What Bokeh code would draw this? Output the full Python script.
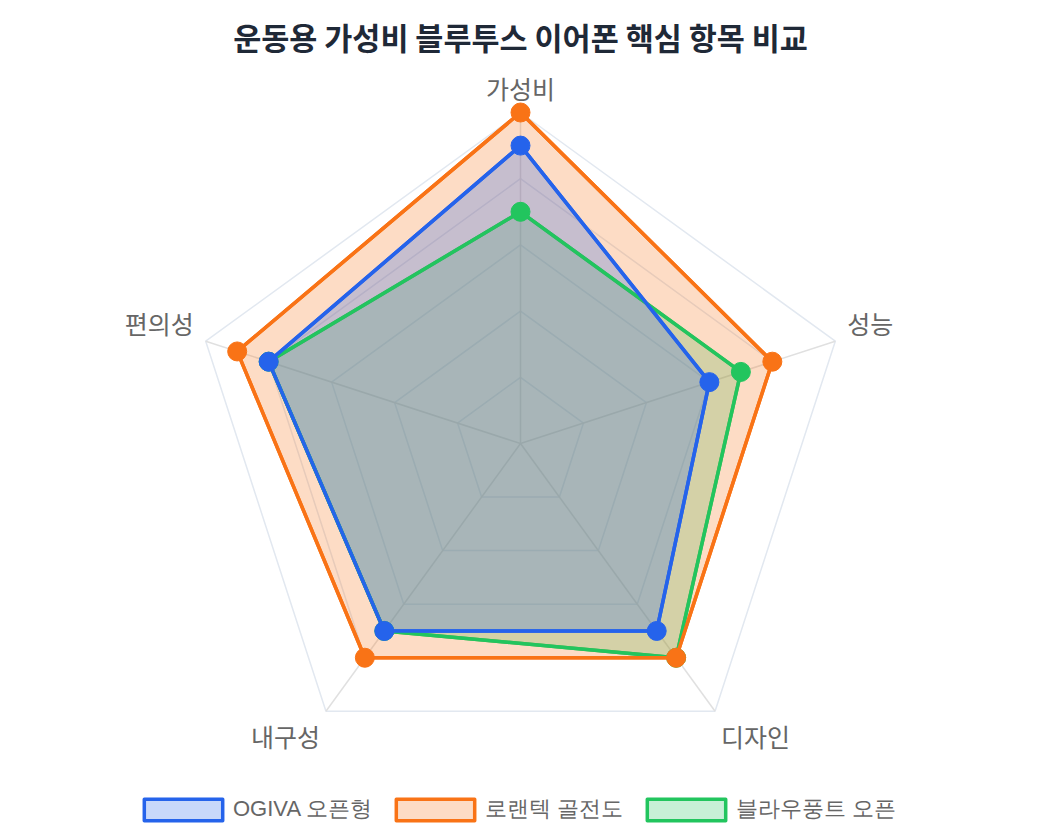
import numpy as np
from bokeh.plotting import figure
from bokeh.models import Range1d, Label, Legend, LegendItem, ColumnDataSource
from bokeh.core.properties import value
from bokeh.embed import file_html
from bokeh.resources import INLINE

# ---- data ----
title = "운동용 가성비 블루투스 이어폰 핵심 항목 비교"
categories = ["가성비", "성능", "디자인", "내구성", "편의성"]
series_names = ["OGIVA 오픈형", "로랜텍 골전도", "블라우풍트 오픈"]
ogiva = [9, 6, 7, 7, 8]
lorantech = [10, 8, 8, 8, 9]
blaupunkt = [7, 7, 8, 7, 8]
series_values = [ogiva, lorantech, blaupunkt]
colors = ["#2563eb", "#f97316", "#22c55e"]
r_max = 10
ring_ticks = [2, 4, 6, 8, 10]

W, H = 1024, 824
cx_px, cy_px = 520, 443
scale = 33.1  # px per unit

FONT = "Noto Sans CJK KR"
LFONT = "Liberation Sans"

p = figure(width=W, height=H, output_backend="svg", toolbar_location=None,
           x_range=Range1d(-cx_px / scale, (W - cx_px) / scale),
           y_range=Range1d(-(H - cy_px) / scale, cy_px / scale),
           min_border=0, outline_line_color=None)
p.axis.visible = False
p.grid.visible = False
p.background_fill_color = "white"
p.border_fill_color = "white"

n = len(categories)
angles = np.pi / 2 - np.arange(n) * 2 * np.pi / n
ca, sa = np.cos(angles), np.sin(angles)

# grid rings
for t in ring_ticks:
    xs = list(t * ca) + [t * ca[0]]
    ys = list(t * sa) + [t * sa[0]]
    p.line(xs, ys, line_color="#e2e8f0", line_width=1.5)
# spokes
p.segment(x0=[0] * n, y0=[0] * n, x1=list(r_max * ca), y1=list(r_max * sa),
          line_color="#e0e0e0", line_width=1.5)

# fills first (last series at bottom); these renderers also feed the legend
renderers = {}
coords = {}
for i in [2, 1, 0]:
    v = np.array(series_values[i], dtype=float)
    coords[i] = (list(v * ca), list(v * sa))
    renderers[i] = p.patch(coords[i][0], coords[i][1], fill_color=colors[i], fill_alpha=0.25,
                           line_color=colors[i], line_width=3.5, line_join="round")
# lines and points on top
for i in [2, 1, 0]:
    xs, ys = coords[i]
    p.line(xs + [xs[0]], ys + [ys[0]], line_color=colors[i], line_width=3.5, line_join="round")
    p.scatter(xs, ys, size=19, fill_color=colors[i], line_color=colors[i], line_width=1)

# category labels
lx = list(r_max * ca)
ly = list(r_max * sa)
aligns, xoffs, yoffs = [], [], []
for k in range(n):
    if abs(ca[k]) < 0.1:
        aligns.append("center"); xoffs.append(0); yoffs.append(-25)
    else:
        aligns.append("left" if ca[k] > 0 else "right")
        sgn = 1 if ca[k] > 0 else -1
        xoffs.append(sgn * (12 if sa[k] > 0 else 6))
        yoffs.append(-18 if sa[k] > 0 else 25)
src = ColumnDataSource(dict(x=lx, y=ly, text=categories, align=aligns, xo=xoffs, yo=yoffs))
p.text(x="x", y="y", text="text", source=src, text_align="align", text_baseline="middle",
       x_offset="xo", y_offset="yo", text_font=value(FONT), text_font_size="25px",
       text_color="#666666")

# title
p.add_layout(Label(x=cx_px, y=H - 36, x_units="screen", y_units="screen", text=title,
                   text_align="center", text_baseline="middle", text_font=FONT,
                   text_font_size="30.5px", text_font_style="bold", text_color="#1f2937"))

# legend
items = [LegendItem(label=series_names[i], renderers=[renderers[i]]) for i in range(3)]
legend = Legend(items=items, orientation="horizontal", location=(134, 0),
                glyph_width=98, glyph_height=27, label_standoff=1, spacing=14,
                label_text_font=LFONT, label_text_font_size="22px", label_text_color="#666666",
                border_line_color=None, background_fill_alpha=0, padding=1, margin=0)
p.add_layout(legend)

open("out.html", "w").write(file_html(p, INLINE))
